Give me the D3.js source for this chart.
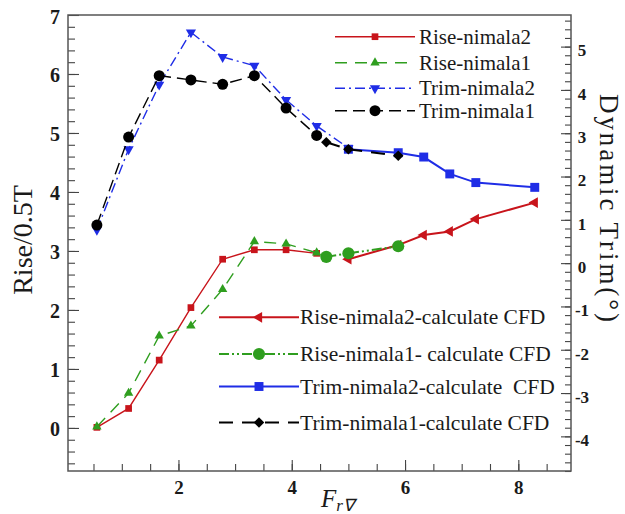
<!DOCTYPE html>
<html>
<head>
<meta charset="utf-8">
<script src="https://cdn.jsdelivr.net/npm/d3@7"></script>
<style>
body{margin:0;background:#fff;}
text{font-family:"Liberation Serif","Times New Roman",serif;fill:#1a1a1a;}
</style>
</head>
<body>
<script>
var frExp=[0.56,1.12,1.66,2.22,2.78,3.34,3.90,4.44];
var frExpTrim2=[0.56,1.12,1.66,2.22,2.78,3.34,3.90,4.44,5.0];
var riseNimala2=[0.01,0.33,1.15,2.04,2.86,3.02,3.02,2.96];
var riseNimala1=[0.02,0.59,1.56,1.73,2.35,3.16,3.12,2.97];
var trimNimala2=[0.77,2.63,4.12,5.33,4.76,4.56,3.77,3.17,2.66];
var trimNimala1=[0.88,2.91,4.33,4.23,4.13,4.33,3.58,2.95];

// CFD points
var frCfdLong=[5.0,5.88,6.33,6.79,7.25,8.29];
var frCfdShort=[4.61,5.0,5.88];
var riseCfd2=[2.86,3.10,3.27,3.33,3.54,3.82];
var riseCfd1=[2.90,2.96,3.08];
var trimCfd2=[2.63,2.55,2.45,2.06,1.86,1.75];
var trimCfd1=[2.79,2.63,2.48];

var xTicks=[2,4,6,8];
var riseTicks=[0,1,2,3,4,5,6,7];
var trimTicks=[-4,-3,-2,-1,0,1,2,3,4,5];

var legendTop=["Rise-nimala2","Rise-nimala1","Trim-nimala2","Trim-nimala1"];
var legendBottom=["Rise-nimala2-calculate CFD","Rise-nimala1- calculate CFD","Trim-nimala2-calculate\u00a0 CFD","Trim-nimala1-calculate CFD"];

var red="#c8141b", green="#2f9e1f", blue="#1f2de6", black="#000";

function pts(xs,ys){
  return xs.map(function(d,i){ return [d,ys[i]]; });
}

var series=[
 {data:pts(frExp,riseNimala2),axis:"L",color:red,dash:null,w:1.4,sym:d3.symbolSquare,size:45,rot:0},
 {data:pts(frExp,riseNimala1),axis:"L",color:green,dash:"12,8",w:1.4,sym:d3.symbolTriangle,size:38,rot:0},
 {data:pts(frExpTrim2,trimNimala2),axis:"R",color:blue,dash:"10,4,2,4",w:1.4,sym:d3.symbolTriangle,size:45,rot:180},
 {data:pts(frExp,trimNimala1),axis:"R",color:black,dash:"12,6",w:1.4,sym:d3.symbolCircle,size:95,rot:0},
 {data:pts(frCfdLong,riseCfd2),axis:"L",color:red,dash:null,w:2,sym:d3.symbolTriangle,size:50,rot:-90},
 {data:pts(frCfdShort,riseCfd1),axis:"L",color:green,dash:"10,3,2,3,2,3",w:2,sym:d3.symbolCircle,size:115,rot:0},
 {data:pts(frCfdLong,trimCfd2),axis:"R",color:blue,dash:null,w:2,sym:d3.symbolSquare,size:80,rot:0},
 {data:pts(frCfdShort,trimCfd1),axis:"R",color:black,dash:"14,9",w:2,sym:d3.symbolSquare,size:55,rot:45}
];

var width=625,height=514;
var pLeft=68,pRight=571,pTop=15,pBottom=471;

var x=d3.scaleLinear().domain([0.05,8.93]).range([pLeft,pRight]);
var yL=d3.scaleLinear().domain([-0.73,7]).range([pBottom,pTop]);
var yR=d3.scaleLinear().domain([-4.8,5.73]).range([pBottom,pTop]);

var svg=d3.select("body").append("svg")
  .attr("width",width)
  .attr("height",height)
  .style("background","#fff");

// minor ticks
svg.append("g")
  .attr("transform","translate("+pLeft+",0)")
  .call(d3.axisLeft(yL).tickValues(d3.range(-0.6,7,0.2)).tickSizeInner(-7).tickSizeOuter(0).tickFormat(""));
svg.append("g")
  .attr("transform","translate("+pRight+",0)")
  .call(d3.axisRight(yR).tickValues(d3.range(-4.8,5.7,0.2)).tickSizeInner(-6).tickSizeOuter(0).tickFormat(""));
svg.append("g")
  .attr("transform","translate(0,"+pBottom+")")
  .call(d3.axisBottom(x).tickValues(d3.range(0.5,8.9,0.5)).tickSizeInner(-7).tickSizeOuter(0).tickFormat(""));

// major ticks
var axL=svg.append("g")
  .attr("transform","translate("+pLeft+",0)")
  .call(d3.axisLeft(yL).tickValues(riseTicks).tickSizeInner(-11).tickSizeOuter(0).tickPadding(8).tickFormat(d3.format("d")));
var axR=svg.append("g")
  .attr("transform","translate("+pRight+",0)")
  .call(d3.axisRight(yR).tickValues(trimTicks).tickSizeInner(-10).tickSizeOuter(0).tickPadding(11).tickFormat(function(d){ return d<0 ? "-"+(-d) : d; }));
var axB=svg.append("g")
  .attr("transform","translate(0,"+pBottom+")")
  .call(d3.axisBottom(x).tickValues(xTicks).tickSizeInner(-11).tickSizeOuter(0).tickPadding(10).tickFormat(d3.format("d")));

svg.selectAll(".domain").remove();
svg.selectAll(".tick line").attr("stroke","#444").attr("stroke-width",1.1);
svg.selectAll(".tick text")
  .style("font-family","'Liberation Serif',serif")
  .style("font-weight","bold")
  .attr("fill","#111");
axL.selectAll("text").style("font-size","20px").attr("dy","0.4em");
axR.selectAll("text").style("font-size","17px").attr("dy","0.55em").attr("text-anchor","middle");
axB.selectAll("text").style("font-size","19px");

// frame
svg.append("rect")
  .attr("x",pLeft).attr("y",pTop)
  .attr("width",pRight-pLeft).attr("height",pBottom-pTop)
  .attr("fill","none").attr("stroke","#555").attr("stroke-width",1.5);

// series
var plot=svg.append("g");
series.forEach(function(s){
  var y= s.axis=="L" ? yL : yR;
  var line=d3.line().x(function(d){ return x(d[0]); }).y(function(d){ return y(d[1]); });
  plot.append("path")
    .datum(s.data)
    .attr("d",line)
    .attr("fill","none")
    .attr("stroke",s.color)
    .attr("stroke-width",s.w)
    .attr("stroke-dasharray",s.dash);
  plot.selectAll(null)
    .data(s.data)
  .enter().append("path")
    .attr("d",d3.symbol().type(s.sym).size(s.size))
    .attr("fill",s.color)
    .attr("transform",function(d){ return "translate("+x(d[0])+","+y(d[1])+") rotate("+s.rot+")"; });
});

// legends
function drawLegend(names,list,x0,x1,tx,ys,fs){
  var g=svg.append("g");
  names.forEach(function(n,i){
    var s=list[i];
    g.append("line")
      .attr("x1",x0).attr("x2",x1).attr("y1",ys[i]).attr("y2",ys[i])
      .attr("stroke",s.color).attr("stroke-width",s.w)
      .attr("stroke-dasharray",s.dash);
    g.append("path")
      .attr("d",d3.symbol().type(s.sym).size(s.size))
      .attr("fill",s.color)
      .attr("transform","translate("+((x0+x1)/2)+","+ys[i]+") rotate("+s.rot+")");
    g.append("text")
      .attr("x",tx).attr("y",ys[i])
      .attr("dy","0.33em")
      .style("font-size",fs)
      .text(n);
  });
}
drawLegend(legendTop,series.slice(0,4),335,415,419,[36.7,62.7,88.3,110.7],"21px");
drawLegend(legendBottom,series.slice(4,8),219,299,300,[317.3,354,386.5,422.5],"21.5px");

// axis titles
svg.append("text")
  .attr("transform","translate(32,240) rotate(-90)")
  .attr("text-anchor","middle")
  .style("font-size","28px")
  .text("Rise/0.5T");
svg.append("text")
  .attr("transform","translate(600,208) rotate(90)")
  .attr("text-anchor","middle")
  .attr("textLength",228)
  .attr("lengthAdjust","spacing")
  .style("font-size","27px")
  .text("Dynamic Trim(\u00b0)");

var xt=svg.append("text")
  .attr("x",321)
  .attr("y",507)
  .style("font-style","italic")
  .style("font-size","25px");
xt.append("tspan").text("F");
xt.append("tspan").attr("dy",4).style("font-size","17px").text("r\u2207");
</script>
</body>
</html>
